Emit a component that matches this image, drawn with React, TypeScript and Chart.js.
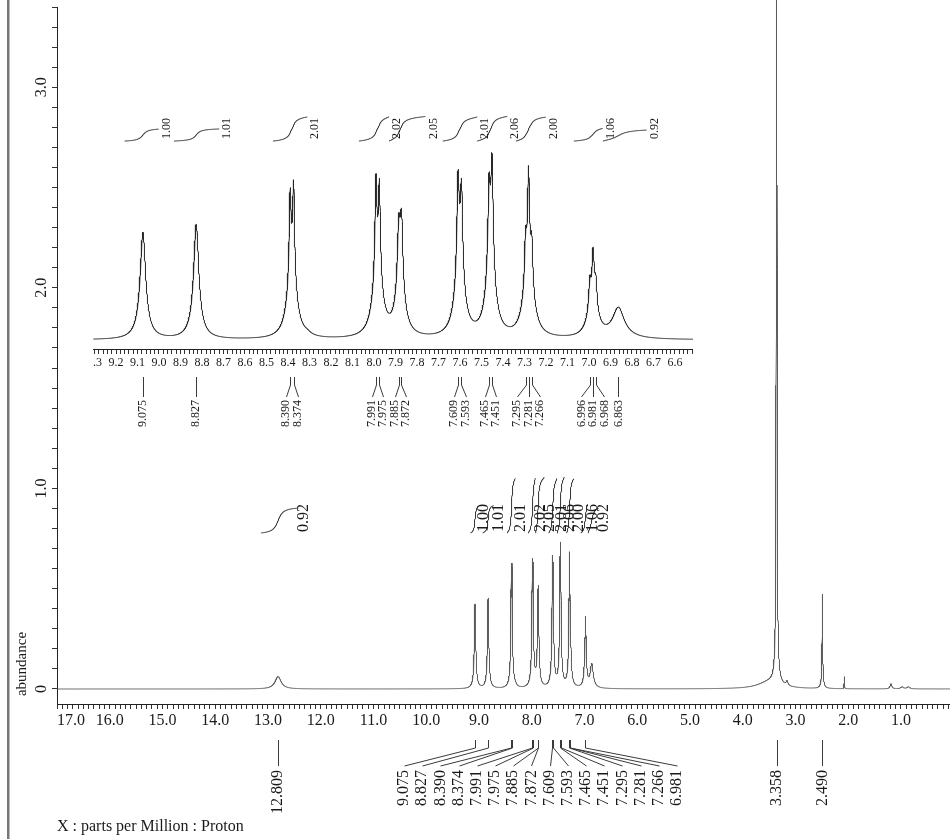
import React, { useEffect, useRef } from "react";
import { Chart, registerables } from "chart.js";

Chart.register(...registerables);

const SERIF = "'Liberation Serif', 'Times New Roman', Times, serif";

// ---- 1H peak list: shift (ppm), amplitude (abundance), half width (ppm), broad-tail share ----
const peakShifts = [12.809, 9.075, 8.827, 8.39, 8.374, 8.31, 7.991, 7.975, 7.885, 7.872, 7.609, 7.593, 7.465, 7.451, 7.295, 7.281, 7.266, 6.996, 6.981, 6.968, 6.863, 3.5, 3.358, 3.358, 3.16, 2.49, 2.075, 1.19, 0.98, 0.86];
const peakHeights = [0.062, 0.42, 0.45, 0.463, 0.505, 0.008, 0.513, 0.483, 0.329, 0.367, 0.521, 0.468, 0.453, 0.569, 0.245, 0.538, 0.235, 0.145, 0.263, 0.135, 0.12, 0.035, 12, 0.09, 0.022, 0.47, 0.06, 0.025, 0.01, 0.01];
const peakWidths = [0.07, 0.014, 0.013, 0.0055, 0.0055, 0.02, 0.0055, 0.0055, 0.0075, 0.0075, 0.0065, 0.0065, 0.0065, 0.0065, 0.0055, 0.0055, 0.0055, 0.006, 0.006, 0.006, 0.03, 0.25, 0.004, 0.04, 0.02, 0.006, 0.004, 0.02, 0.03, 0.03];
const peakTails = [0, 0.25, 0.25, 0.25, 0.25, 0, 0.25, 0.25, 0.25, 0.25, 0.25, 0.25, 0.25, 0.25, 0.25, 0.25, 0.25, 0.25, 0.25, 0.25, 0.25, 0, 0, 0, 0, 0.1, 0, 0, 0, 0];

// ---- Picked peaks (ppm) ----
const mainPeakLabels = [12.809, 9.075, 8.827, 8.39, 8.374, 7.991, 7.975, 7.885, 7.872, 7.609, 7.593, 7.465, 7.451, 7.295, 7.281, 7.266, 6.981, 3.358, 2.49];
const insetPeakLabels = [9.075, 8.827, 8.39, 8.374, 7.991, 7.975, 7.885, 7.872, 7.609, 7.593, 7.465, 7.451, 7.295, 7.281, 7.266, 6.996, 6.981, 6.968, 6.863];

// ---- Integral regions (ppm) and values ----
const integralFrom = [13.13, 9.16, 8.93, 8.47, 8.07, 7.93, 7.68, 7.52, 7.34, 7.07, 6.935];
const integralTo = [12.42, 9.0, 8.72, 8.31, 7.93, 7.76, 7.52, 7.38, 7.2, 6.935, 6.73];
const integralValues = [0.92, 1.0, 1.01, 2.01, 2.02, 2.05, 2.01, 2.06, 2.0, 1.06, 0.92];

// ---- Axis ranges ----
const mainPpmRange = [0.07, 17.0];
const mainAbundanceRange = [-0.0748, 3.4];
const insetPpmRange = [6.516, 9.307];
const insetAbundanceRange = [-0.0353, 0.941];

// integral trace placement (abundance units)
const mainIntegralBase = 0.778;
const mainIntegralScale = 0.135;
const insetIntegralBase = 0.78;
const insetIntegralScale = 0.047;

function intensity(ppm: number): number {
  let s = 0;
  for (let i = 0; i < peakShifts.length; i++) {
    const d = ppm - peakShifts[i];
    const w = peakWidths[i];
    const f = peakTails[i];
    const W = Math.max(0.025, 1.8 * w);
    s += peakHeights[i] * ((1 - f) / (1 + (d / w) * (d / w)) + f / (1 + (d / W) * (d / W)));
  }
  return s;
}

function sampleSpectrum(lo: number, hi: number, step: number) {
  const xs: number[] = [];
  const n = Math.round((hi - lo) / step);
  for (let k = 0; k <= n; k++) xs.push(lo + k * step);
  peakShifts.forEach((c) => {
    if (c > lo && c < hi) xs.push(c);
  });
  xs.sort((a, b) => a - b);
  return xs.map((x) => ({ x, y: intensity(x) }));
}

function integralCurve(from: number, to: number, value: number, base: number, scale: number, step: number) {
  const xs: number[] = [];
  for (let x = from; x >= to - 1e-9; x -= step) xs.push(x);
  const ys = xs.map(intensity);
  const cum = [0];
  let total = 0;
  for (let k = 1; k < xs.length; k++) {
    total += (ys[k] + ys[k - 1]) / 2;
    cum.push(total);
  }
  return xs.map((x, k) => ({ x, y: base + value * scale * (cum[k] / total) }));
}

// place rotated labels so that they do not overlap, keeping clusters centred on their peaks
function spreadLabels(targets: number[], gap: number): number[] {
  let cls = targets.map((t) => ({ n: 1, sum: t }));
  let merged = true;
  while (merged) {
    merged = false;
    for (let k = 0; k < cls.length - 1; k++) {
      const a = cls[k];
      const b = cls[k + 1];
      const aEnd = a.sum / a.n + ((a.n - 1) / 2) * gap;
      const bStart = b.sum / b.n - ((b.n - 1) / 2) * gap;
      if (bStart - aEnd < gap) {
        cls.splice(k, 2, { n: a.n + b.n, sum: a.sum + b.sum });
        merged = true;
        break;
      }
    }
  }
  const out: number[] = [];
  cls.forEach((c) => {
    const m = c.sum / c.n;
    for (let j = 0; j < c.n; j++) out.push(m + (j - (c.n - 1) / 2) * gap);
  });
  return out;
}

type LabelCfg = {
  shifts: number[];
  gap: number;
  fontSize: number;
  tickTop: number;
  bend: number;
  diagEnd: number;
  textEnd: number;
};

function drawPeakLabels(chart: any, cfg: LabelCfg) {
  const { ctx } = chart;
  const x = chart.scales.x;
  const bottom = chart.chartArea.bottom;
  const px = cfg.shifts.map((s) => x.getPixelForValue(s));
  const lx = spreadLabels(px, cfg.gap);
  ctx.save();
  ctx.strokeStyle = "#3a3a3a";
  ctx.lineWidth = 1;
  ctx.beginPath();
  px.forEach((p, i) => {
    const a = Math.round(p) + 0.5;
    const b = Math.round(lx[i]) + 0.5;
    ctx.moveTo(a, bottom + cfg.tickTop);
    ctx.lineTo(a, bottom + cfg.bend);
    ctx.lineTo(b, bottom + cfg.diagEnd);
  });
  ctx.stroke();
  ctx.fillStyle = "#1a1a1a";
  ctx.font = `${cfg.fontSize}px ${SERIF}`;
  ctx.textAlign = "right";
  ctx.textBaseline = "middle";
  cfg.shifts.forEach((s, i) => {
    ctx.save();
    ctx.translate(lx[i], bottom + cfg.textEnd);
    ctx.rotate(-Math.PI / 2);
    ctx.fillText(s.toFixed(3), 0, 0);
    ctx.restore();
  });
  ctx.restore();
}

function drawIntegralLabels(chart: any, idxs: number[], base: number, fontSize: number, dx: number, dy: number) {
  const { ctx } = chart;
  const x = chart.scales.x;
  const y = chart.scales.y;
  const yb = y.getPixelForValue(base) + dy;
  ctx.save();
  ctx.fillStyle = "#1a1a1a";
  ctx.font = `${fontSize}px ${SERIF}`;
  ctx.textAlign = "left";
  ctx.textBaseline = "middle";
  idxs.forEach((i) => {
    const xe = x.getPixelForValue(integralTo[i]) + dx;
    ctx.save();
    ctx.translate(xe, yb);
    ctx.rotate(-Math.PI / 2);
    ctx.fillText(integralValues[i].toFixed(2), 0, 0);
    ctx.restore();
  });
  ctx.restore();
}

const tickGrid = {
  drawOnChartArea: false,
  drawTicks: true,
  tickLength: 5,
  tickColor: "#333",
};

function isMultiple(v: number, step: number) {
  const r = v / step;
  return Math.abs(r - Math.round(r)) < 1e-6;
}

export default function App() {
  const mainRef = useRef<HTMLCanvasElement>(null);
  const insetRef = useRef<HTMLCanvasElement>(null);

  useEffect(() => {
    Chart.defaults.font.family = SERIF;
    Chart.defaults.color = "#1a1a1a";

    const allIdx = integralValues.map((_, i) => i);
    const insetIdx = allIdx.filter((i) => integralFrom[i] <= insetPpmRange[1]);

    const mainDatasets: any[] = [
      {
        data: sampleSpectrum(mainPpmRange[0], mainPpmRange[1], 0.001),
        borderColor: "#5c5c5c",
        borderWidth: 1,
        pointRadius: 0,
        clip: { left: 0, right: 0, top: 8, bottom: 0 },
      },
      ...allIdx.map((i) => ({
        data: integralCurve(integralFrom[i], integralTo[i], integralValues[i], mainIntegralBase, mainIntegralScale, 0.002),
        borderColor: "#333",
        borderWidth: 1,
        pointRadius: 0,
      })),
    ];

    const mainDecor = {
      id: "mainDecor",
      afterDraw(chart: any) {
        const { ctx } = chart;
        const xs = chart.scales.x;
        ctx.save();
        ctx.fillStyle = "#777";
        ctx.fillRect(7, 0, 2.5, chart.height);
        ctx.fillStyle = "#1a1a1a";
        ctx.font = `16px ${SERIF}`;
        ctx.textAlign = "left";
        ctx.textBaseline = "middle";
        // first tick label sits inside the axis, starting at its tick
        ctx.fillText(mainPpmRange[1].toFixed(1), xs.getPixelForValue(mainPpmRange[1]), chart.chartArea.bottom + 7 + 9.6);
        ctx.fillText("X : parts per Million : Proton", 57, 827);
        ctx.font = `15px ${SERIF}`;
        ctx.textAlign = "center";
        ctx.translate(22, 664);
        ctx.rotate(-Math.PI / 2);
        ctx.fillText("abundance", 0, 0);
        ctx.restore();
        drawPeakLabels(chart, {
          shifts: mainPeakLabels,
          gap: 18.2,
          fontSize: 16,
          tickTop: 36,
          bend: 44,
          diagEnd: 62,
          textEnd: 66,
        });
        drawIntegralLabels(chart, allIdx, mainIntegralBase, 16, 5, -1);
      },
    };

    const main = new Chart(mainRef.current as HTMLCanvasElement, {
      type: "line",
      data: { datasets: mainDatasets },
      options: {
        responsive: false,
        animation: false,
        devicePixelRatio: 1,
        events: [],
        layout: { padding: { top: 7, left: 0, right: 0, bottom: 0 } },
        elements: { line: { tension: 0 }, point: { radius: 0 } },
        plugins: { legend: { display: false }, tooltip: { enabled: false } },
        scales: {
          x: {
            type: "linear",
            min: mainPpmRange[0],
            max: mainPpmRange[1],
            reverse: true,
            afterFit: (s: any) => {
              s.height = 135;
              s.paddingLeft = 0;
              s.paddingRight = 0;
            },
            grid: tickGrid,
            border: { display: true, color: "#222", width: 1 },
            ticks: {
              stepSize: 0.1,
              autoSkip: false,
              includeBounds: false,
              minRotation: 0,
              maxRotation: 0,
              padding: 2,
              font: { size: 16 },
              color: "#1a1a1a",
              callback: (v: any) => {
                const n = Number(v);
                if (n > mainPpmRange[1] - 0.05) return "";
                return isMultiple(n, 1) ? n.toFixed(1) : "";
              },
            },
          },
          y: {
            type: "linear",
            min: mainAbundanceRange[0],
            max: mainAbundanceRange[1],
            afterFit: (s: any) => {
              s.width = 57;
              s.paddingTop = 0;
              s.paddingBottom = 0;
            },
            grid: tickGrid,
            border: { display: true, color: "#222", width: 1 },
            ticks: {
              stepSize: 0.1,
              autoSkip: false,
              includeBounds: false,
              minRotation: 90,
              maxRotation: 90,
              crossAlign: "center",
              padding: 0,
              font: { size: 16 },
              color: "#1a1a1a",
              callback: (v: any) => {
                const n = Number(v);
                if (Math.abs(n) < 1e-9) return "0";
                return isMultiple(n, 1) ? n.toFixed(1) : "";
              },
            },
          },
        },
      } as any,
      plugins: [mainDecor],
    });

    const insetDatasets: any[] = [
      {
        data: sampleSpectrum(insetPpmRange[0], insetPpmRange[1], 0.0005),
        borderColor: "#262626",
        borderWidth: 1,
        pointRadius: 0,
      },
      ...insetIdx.map((i) => ({
        data: integralCurve(integralFrom[i], integralTo[i], integralValues[i], insetIntegralBase, insetIntegralScale, 0.0005),
        borderColor: "#333",
        borderWidth: 1,
        pointRadius: 0,
      })),
    ];

    const insetDecor = {
      id: "insetDecor",
      afterDraw(chart: any) {
        drawPeakLabels(chart, {
          shifts: insetPeakLabels,
          gap: 11.5,
          fontSize: 12,
          tickTop: 28,
          bend: 36,
          diagEnd: 48,
          textEnd: 51,
        });
        drawIntegralLabels(chart, insetIdx, insetIntegralBase, 12, 8, -2);
      },
    };

    const inset = new Chart(insetRef.current as HTMLCanvasElement, {
      type: "line",
      data: { datasets: insetDatasets },
      options: {
        responsive: false,
        animation: false,
        devicePixelRatio: 1,
        events: [],
        layout: { padding: 0 },
        elements: { line: { tension: 0 }, point: { radius: 0 } },
        plugins: { legend: { display: false }, tooltip: { enabled: false } },
        scales: {
          x: {
            type: "linear",
            min: insetPpmRange[0],
            max: insetPpmRange[1],
            reverse: true,
            afterFit: (s: any) => {
              s.height = 91;
              s.paddingLeft = 0;
              s.paddingRight = 0;
            },
            grid: tickGrid,
            border: { display: true, color: "#222", width: 1 },
            ticks: {
              stepSize: 0.02,
              autoSkip: false,
              includeBounds: false,
              minRotation: 0,
              maxRotation: 0,
              padding: 2,
              font: { size: 12 },
              color: "#1a1a1a",
              callback: (v: any) => (isMultiple(Number(v), 0.1) ? Number(v).toFixed(1) : ""),
            },
          },
          y: {
            type: "linear",
            display: false,
            min: insetAbundanceRange[0],
            max: insetAbundanceRange[1],
          },
        },
      } as any,
      plugins: [insetDecor],
    });

    return () => {
      main.destroy();
      inset.destroy();
    };
  }, []);

  return (
    <div
      style={{
        position: "absolute",
        left: 0,
        top: 0,
        width: 950,
        height: 839,
        overflow: "hidden",
        background: "#fff",
      }}
    >
      <canvas
        ref={mainRef}
        width={950}
        height={839}
        style={{ position: "absolute", left: 0, top: 0, width: 950, height: 839 }}
      />
      <canvas
        ref={insetRef}
        width={600}
        height={340}
        style={{ position: "absolute", left: 93, top: 100, width: 600, height: 340 }}
      />
    </div>
  );
}
